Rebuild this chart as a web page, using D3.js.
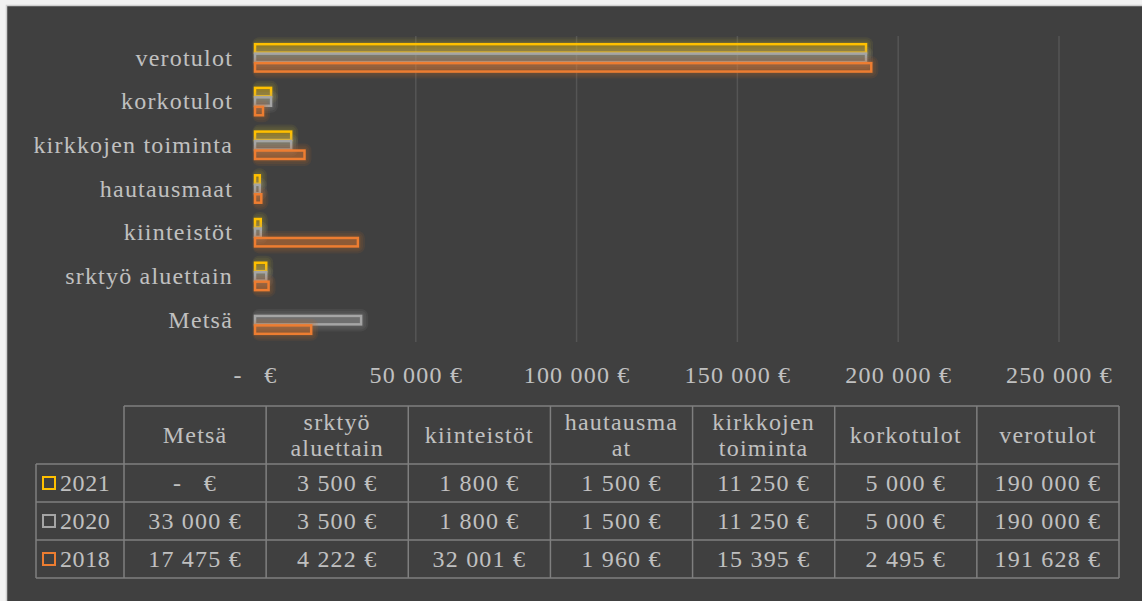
<!DOCTYPE html>
<html>
<head>
<meta charset="utf-8">
<script src="https://cdn.jsdelivr.net/npm/d3@7/dist/d3.min.js"></script>
<style>
  html, body { margin: 0; padding: 0; background: #f2f2f2; }
  svg { display: block; }
  text { font-family: "Liberation Serif", "Times New Roman", serif; }
</style>
</head>
<body>
<svg id="chart" width="1142" height="601"></svg>
<script>
// ---- data ----
const categories = ["Metsä", "srktyö aluettain", "kiinteistöt", "hautausmaat", "kirkkojen toiminta", "korkotulot", "verotulot"];
const headerLabels = [["Metsä"], ["srktyö", "aluettain"], ["kiinteistöt"], ["hautausma", "at"], ["kirkkojen", "toiminta"], ["korkotulot"], ["verotulot"]];
const seriesNames = ["2021", "2020", "2018"];
const values2021 = [0, 3500, 1800, 1500, 11250, 5000, 190000];
const values2020 = [33000, 3500, 1800, 1500, 11250, 5000, 190000];
const values2018 = [17475, 4222, 32001, 1960, 15395, 2495, 191628];
const seriesColors = ["#FFC000", "#A5A5A5", "#ED7D31"];
const glowColors = ["#b0a830", "#9a9a9a", "#c86a2c"];
const xTicks = [0, 50000, 100000, 150000, 200000, 250000];

const seriesValues = [values2021, values2020, values2018];
const FONT = "'Liberation Serif', 'Times New Roman', serif";
const FS = "24px";
const LS = "1.2px";
const TXT = "#c0c0c0";

const svg = d3.select("#chart");
// background frame
svg.append("rect").attr("x", 0).attr("y", 0).attr("width", 1142).attr("height", 601).attr("fill", "#f2f2f2");
svg.append("rect").attr("x", 6.5).attr("y", 5.5).attr("width", 1142).attr("height", 601)
  .attr("fill", "#404040").attr("stroke", "#d0d0d0").attr("stroke-width", 1.5);

const plot = { left: 255, right: 1059, top: 36, bottom: 342 };

const x = d3.scaleLinear().domain([0, 250000]).range([plot.left, plot.right]);
const y = d3.scaleBand().domain(categories.slice().reverse())
  .range([plot.top, plot.bottom]).paddingInner(0.35).paddingOuter(0.175);
const ySub = d3.scaleBand().domain(seriesNames).range([0, y.bandwidth()]);

// gridlines
svg.append("g").selectAll("line").data(xTicks.slice(1)).join("line")
  .attr("x1", d => x(d)).attr("x2", d => x(d))
  .attr("y1", plot.top).attr("y2", plot.bottom)
  .attr("stroke", "#555555").attr("stroke-width", 1.5);

// x axis labels
const fmt = v => v === 0 ? "-\u00a0\u00a0\u00a0€" : d3.format(",")(v).replace(/,/g, "\u00a0") + "\u00a0€";
const xAxis = d3.axisBottom(x).tickValues(xTicks).tickFormat(fmt).tickSize(0).tickPadding(0);
const xg = svg.append("g").attr("transform", `translate(0,${plot.bottom + 24})`).call(xAxis);
xg.select(".domain").remove();
xg.selectAll("text").attr("fill", TXT).style("font-size", FS).style("letter-spacing", LS)
  .style("font-family", FONT);

// y axis labels
const yAxis = d3.axisLeft(y).tickSize(0).tickPadding(22);
const yg = svg.append("g").attr("transform", `translate(${plot.left},0)`).call(yAxis);
yg.select(".domain").remove();
yg.selectAll("text").attr("fill", TXT).style("font-size", FS).style("letter-spacing", LS)
  .style("font-family", FONT);

// bars with soft glow (layered halos)
const glowSteps = [7, 5, 3];
seriesNames.forEach((s, si) => {
  const data = categories.map((c, ci) => ({ c, v: seriesValues[si][ci] })).filter(d => d.v > 0);
  const g = svg.append("g");
  glowSteps.forEach(k => {
    g.append("g").selectAll("rect").data(data).join("rect")
      .attr("x", x(0) - k * 0.4)
      .attr("y", d => y(d.c) + ySub(s) + 0.5 - k)
      .attr("width", d => x(d.v) - x(0) + k * 1.4)
      .attr("height", ySub.bandwidth() - 1 + 2 * k)
      .attr("rx", k).attr("ry", k)
      .attr("fill", glowColors[si]).attr("fill-opacity", 0.1);
  });
  g.append("g").selectAll("rect").data(data).join("rect")
    .attr("x", x(0))
    .attr("y", d => y(d.c) + ySub(s) + 0.5)
    .attr("width", d => x(d.v) - x(0))
    .attr("height", ySub.bandwidth() - 1)
    .attr("fill", seriesColors[si]).attr("fill-opacity", 0.3)
    .attr("stroke", seriesColors[si]).attr("stroke-width", 2.5);
});

// data table
const tbl = { left: 36, labelRight: 124, right: 1119, top: 406, headerBottom: 464, rowH: 38 };
const colX = d3.scaleBand().domain(categories).range([tbl.labelRight, tbl.right]);
const rowY = d3.scaleBand().domain(seriesNames).range([tbl.headerBottom, tbl.headerBottom + tbl.rowH * 3]);
const tg = svg.append("g");
const lineColor = "#7f7f7f";
tg.append("line").attr("x1", tbl.labelRight).attr("x2", tbl.right).attr("y1", tbl.top).attr("y2", tbl.top)
  .attr("stroke", lineColor).attr("stroke-width", 1.5);
tg.selectAll("line.h").data([tbl.headerBottom, ...seriesNames.map(s => rowY(s) + rowY.bandwidth())]).join("line")
  .attr("class", "h")
  .attr("x1", tbl.left).attr("x2", tbl.right).attr("y1", d => d).attr("y2", d => d)
  .attr("stroke", lineColor).attr("stroke-width", 1.5);
tg.append("line").attr("x1", tbl.left).attr("x2", tbl.left).attr("y1", tbl.headerBottom).attr("y2", tbl.headerBottom + tbl.rowH * 3)
  .attr("stroke", lineColor).attr("stroke-width", 1.5);
tg.selectAll("line.v").data([...categories.map(c => colX(c)), tbl.right]).join("line")
  .attr("class", "v")
  .attr("x1", d => d).attr("x2", d => d).attr("y1", tbl.top).attr("y2", tbl.headerBottom + tbl.rowH * 3)
  .attr("stroke", lineColor).attr("stroke-width", 1.5);

// header text
categories.forEach((c, ci) => {
  const lines = headerLabels[ci];
  const cx = colX(c) + colX.bandwidth() / 2;
  const cy = (tbl.top + tbl.headerBottom) / 2;
  const lh = 26;
  lines.forEach((ln, li) => {
    tg.append("text").attr("x", cx)
      .attr("y", cy + (li - (lines.length - 1) / 2) * lh)
      .attr("dy", "0.35em").attr("text-anchor", "middle")
      .attr("fill", TXT).style("font-size", FS).style("letter-spacing", LS).text(ln);
  });
});
// rows
seriesNames.forEach((s, si) => {
  const cy = rowY(s) + rowY.bandwidth() / 2;
  tg.append("rect").attr("x", 43).attr("y", cy - 6).attr("width", 12).attr("height", 12)
    .attr("fill", "none").attr("stroke", seriesColors[si]).attr("stroke-width", 2);
  tg.append("text").attr("x", 60).attr("y", cy).attr("dy", "0.35em")
    .attr("fill", TXT).style("font-size", FS).style("letter-spacing", "0.6px").text(s);
  categories.forEach((c, ci) => {
    tg.append("text").attr("x", colX(c) + colX.bandwidth() / 2).attr("y", cy).attr("dy", "0.35em")
      .attr("text-anchor", "middle").attr("fill", TXT).style("font-size", FS).style("letter-spacing", LS)
      .style("white-space", "pre")
      .text(fmt(seriesValues[si][ci]));
  });
});
</script>
</body>
</html>
